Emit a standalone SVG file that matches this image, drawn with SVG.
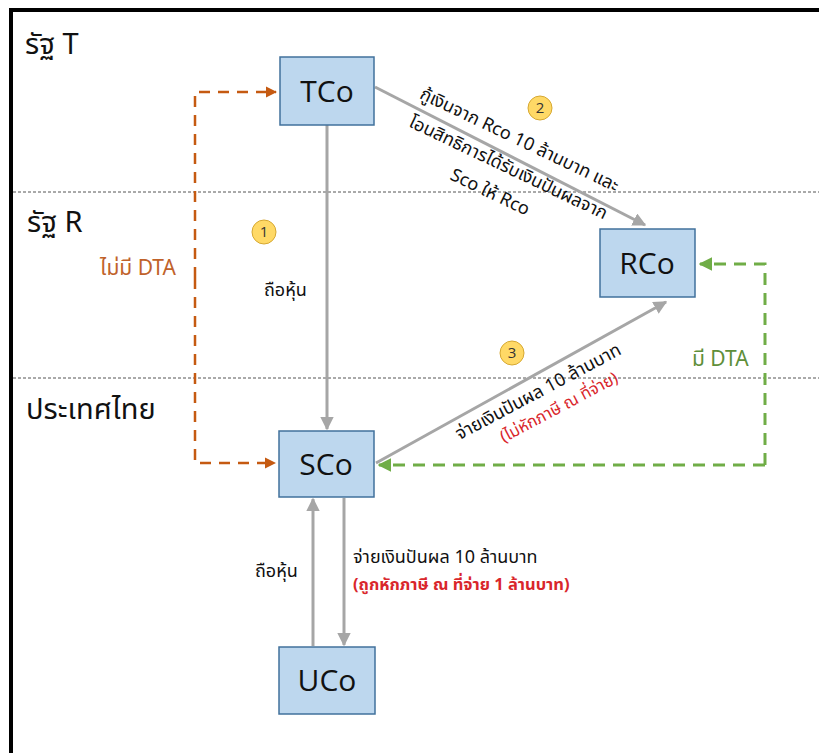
<svg xmlns="http://www.w3.org/2000/svg" width="819" height="753" viewBox="0 0 819 753">
  <style>
    .th { font-family: "Noto Sans Thai", "Noto Sans", "Open Sans", sans-serif; }
    .node rect { fill: #BDD7EE; stroke: #41719C; stroke-width: 1.5; }
    .node text { font-family: "Open Sans", "Noto Sans", sans-serif; font-size: 30px; fill: #111; text-anchor: middle; }
    .zone { font-size: 29px; fill: #111; }
    .lbl { font-size: 18px; fill: #111; }
    .red { font-size: 16.5px; fill: #D9262B; }
    .sep { stroke: #555; stroke-width: 1; stroke-dasharray: 3 2; fill: none; }
    .gray { stroke: #A6A6A6; stroke-width: 3; fill: none; }
    .orange { stroke: #C55A11; stroke-width: 2.5; stroke-dasharray: 11 8; fill: none; }
    .green { stroke: #70AD47; stroke-width: 3; stroke-dasharray: 12 8; fill: none; }
    .badge circle { fill: #FFD966; stroke: #D6A832; stroke-width: 1; }
    .badge text { font-family: "Open Sans", "Noto Sans", sans-serif; font-size: 15px; fill: #333; text-anchor: middle; }
  </style>
  <defs>
    <marker id="ahGray" viewBox="0 0 10 10" refX="9" refY="5" markerWidth="4.5" markerHeight="4.5" orient="auto" markerUnits="strokeWidth">
      <path d="M0,0 L10,5 L0,10 z" fill="#A6A6A6"/>
    </marker>
    <marker id="ahOrange" viewBox="0 0 10 10" refX="9" refY="5" markerWidth="4.5" markerHeight="4.5" orient="auto" markerUnits="strokeWidth">
      <path d="M0,0 L10,5 L0,10 z" fill="#C55A11"/>
    </marker>
    <marker id="ahGreen" viewBox="0 0 10 10" refX="9" refY="5" markerWidth="4.5" markerHeight="4.5" orient="auto" markerUnits="strokeWidth">
      <path d="M0,0 L10,5 L0,10 z" fill="#70AD47"/>
    </marker>
  </defs>

  <rect width="819" height="753" fill="#FFFFFF"/>

  <!-- frame -->
  <line x1="9" y1="10" x2="819" y2="10" stroke="#000" stroke-width="4"/>
  <line x1="11" y1="8" x2="11" y2="753" stroke="#000" stroke-width="4"/>

  <!-- zone separators -->
  <line class="sep" x1="13" y1="192" x2="819" y2="192"/>
  <line class="sep" x1="13" y1="378" x2="819" y2="378"/>

  <!-- zone labels -->
  <text class="th zone" x="25" y="54">รัฐ T</text>
  <text class="th zone" x="27" y="232">รัฐ R</text>
  <text class="th zone" x="26" y="419">ประเทศไทย</text>

  <!-- connectors -->
  <g id="connectors">
    <polyline class="orange" points="195,278 195,92 276,92" marker-end="url(#ahOrange)"/>
    <polyline class="orange" points="195,278 195,463 275,463" marker-end="url(#ahOrange)"/>
    <polyline class="green" points="765,465 765,264 700,264" marker-end="url(#ahGreen)"/>
    <line class="green" x1="765" y1="465" x2="379" y2="465" marker-end="url(#ahGreen)"/>
    <line class="gray" x1="327" y1="125" x2="327" y2="429" marker-end="url(#ahGray)"/>
    <line class="gray" x1="375" y1="87" x2="645" y2="225" marker-end="url(#ahGray)"/>
    <line class="gray" x1="376" y1="463" x2="666" y2="302" marker-end="url(#ahGray)"/>
    <line class="gray" x1="313" y1="646" x2="313" y2="499" marker-end="url(#ahGray)"/>
    <line class="gray" x1="344" y1="498" x2="344" y2="645" marker-end="url(#ahGray)"/>
  </g>

  <!-- connector labels -->
  <text class="th" x="100" y="275" font-size="21" fill="#C0622A">ไม่มี DTA</text>
  <text class="th" x="692" y="366" font-size="21" fill="#5F8F3A">มี DTA</text>
  <text class="th lbl" x="264" y="296">ถือหุ้น</text>
  <text class="th lbl" x="255" y="577">ถือหุ้น</text>
  <text class="th lbl" x="353" y="563">จ่ายเงินปันผล 10 ล้านบาท</text>
  <text class="th red" x="353" y="590" font-weight="bold">(ถูกหักภาษี ณ ที่จ่าย 1 ล้านบาท)</text>

  <g transform="translate(517,145) rotate(25.5)" text-anchor="middle">
    <text class="th lbl" x="0" y="0">กู้เงินจาก Rco 10 ล้านบาท และ</text>
    <text class="th lbl" x="2" y="30">โอนสิทธิการได้รับเงินปันผลจาก</text>
    <text class="th lbl" x="-4" y="60">Sco ให้ Rco</text>
  </g>
  <g transform="translate(541,397) rotate(-28)" text-anchor="middle">
    <text class="th lbl" x="0" y="0" font-size="17.5">จ่ายเงินปันผล 10 ล้านบาท</text>
    <text class="th red" x="11" y="23">(ไม่หักภาษี ณ ที่จ่าย)</text>
  </g>

  <!-- step badges -->
  <g class="badge" id="step1"><circle cx="264" cy="232" r="12"/><text x="264" y="237">1</text></g>
  <g class="badge" id="step2"><circle cx="540" cy="108" r="12"/><text x="540" y="113">2</text></g>
  <g class="badge" id="step3"><circle cx="512" cy="353" r="12"/><text x="512" y="358">3</text></g>

  <!-- nodes -->
  <g class="node" id="TCo"><rect x="280" y="57" width="94" height="68"/><text x="327" y="102">TCo</text></g>
  <g class="node" id="RCo"><rect x="600" y="229" width="95" height="68"/><text x="647" y="274">RCo</text></g>
  <g class="node" id="SCo"><rect x="279" y="431" width="95" height="66"/><text x="326" y="475">SCo</text></g>
  <g class="node" id="UCo"><rect x="279" y="647" width="96" height="67"/><text x="327" y="691">UCo</text></g>
</svg>
